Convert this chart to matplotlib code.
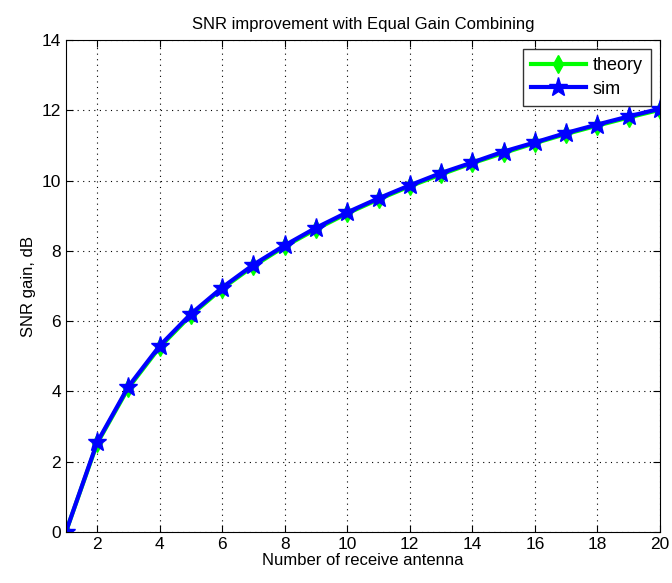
import numpy as np
import matplotlib
matplotlib.use("Agg")
import matplotlib.pyplot as plt

# data
n_rx = [1, 2, 3, 4, 5, 6, 7, 8, 9, 10, 11, 12, 13, 14, 15, 16, 17, 18, 19, 20]
theory = [0.0, 2.52, 4.10, 5.26, 6.17, 6.93, 7.57, 8.13, 8.62, 9.07,
          9.47, 9.84, 10.18, 10.50, 10.79, 11.07, 11.33, 11.57, 11.80, 12.02]
sim = [0.0, 2.55, 4.14, 5.30, 6.21, 6.96, 7.61, 8.16, 8.66, 9.10,
       9.50, 9.87, 10.22, 10.52, 10.83, 11.09, 11.36, 11.60, 11.83, 12.05]

plt.rcParams['font.family'] = ['Liberation Sans', 'DejaVu Sans']

fig = plt.figure(figsize=(6.72, 5.83), dpi=100)
ax = fig.add_axes([0.098, 0.0875, 0.884, 0.8435])

ax.plot(n_rx, theory, color=(0, 1, 0), lw=3, marker='d', ms=9, label='theory')
ax.plot(n_rx, sim, color=(0, 0, 1), lw=3, marker='*', ms=14, label='sim')

ax.set_xlim(1, 20)
ax.set_ylim(0, 14)
ax.set_xticks(np.arange(2, 21, 2))
ax.set_yticks(np.arange(0, 15, 2))
ax.tick_params(direction='in', labelsize=12.5, top=True, right=True, length=5)
ax.grid(True, color='black', linestyle=(0, (1, 4)), linewidth=0.8)
for s in ax.spines.values():
    s.set_linewidth(0.8)

ax.set_title('SNR improvement with Equal Gain Combining', fontsize=12, pad=8)
ax.set_xlabel('Number of receive antenna', fontsize=12, labelpad=1)
ax.set_ylabel('SNR gain, dB', fontsize=12, labelpad=4)

leg = ax.legend(loc='upper right', fontsize=13, fancybox=False, framealpha=1,
                edgecolor='#333333', handlelength=3.0, borderaxespad=0.5,
                handletextpad=0.4, borderpad=0.45, labelspacing=0.35)

fig.savefig('out.png', dpi=100)
